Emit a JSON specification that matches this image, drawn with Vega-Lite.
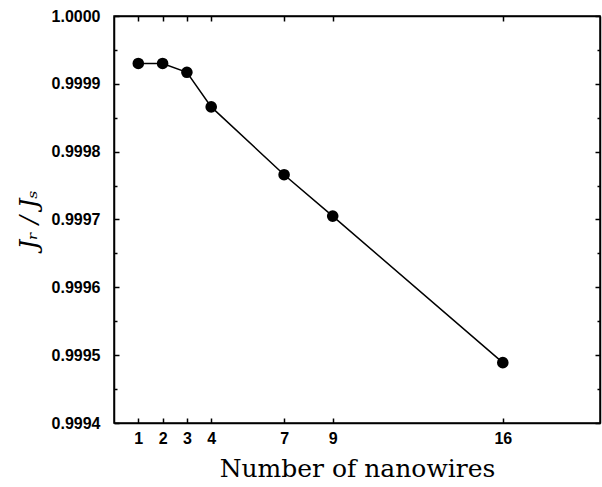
{
  "$schema": "https://vega.github.io/schema/vega-lite/v6.json",
  "width": 486,
  "height": 407,
  "autosize": "none",
  "padding": {"left": 114, "top": 16, "right": 2, "bottom": 64},
  "background": "white",
  "config": {
    "view": {"stroke": "black", "strokeWidth": 1.5},
    "axis": {
      "domainColor": "black",
      "domainWidth": 1.5,
      "tickColor": "black",
      "grid": false,
      "labelFont": "Liberation Sans",
      "labelFontWeight": "bold",
      "labelFontSize": 16,
      "labelColor": "black",
      "titleColor": "black"
    }
  },
  "data": {
    "values": [
      {"n": 1, "ratio": 0.99993},
      {"n": 2, "ratio": 0.99993},
      {"n": 3, "ratio": 0.999917},
      {"n": 4, "ratio": 0.999866},
      {"n": 7, "ratio": 0.999766},
      {"n": 9, "ratio": 0.999705},
      {"n": 16, "ratio": 0.999489}
    ]
  },
  "layer": [
    {
      "mark": {"type": "line", "color": "black", "strokeWidth": 1.5, "point": {"filled": true, "color": "black", "size": 135, "opacity": 1}},
      "encoding": {
        "x": {
          "field": "n", "type": "quantitative",
          "scale": {"domain": [0, 20], "nice": false, "zero": false},
          "axis": {
            "orient": "bottom",
            "values": [1, 2, 3, 4, 7, 9, 16],
            "title": "Number of nanowires",
            "titleFont": "DejaVu Serif",
            "titleFontWeight": "normal",
            "titleFontSize": 25,
            "titlePadding": 10,
            "tickSize": -5,
            "tickWidth": 1.5,
            "labelPadding": 12
          }
        },
        "y": {
          "field": "ratio", "type": "quantitative",
          "scale": {"domain": [0.9994, 1.0], "nice": false, "zero": false},
          "axis": {
            "orient": "left",
            "values": [0.9994, 0.99945, 0.9995, 0.99955, 0.9996, 0.99965, 0.9997, 0.99975, 0.9998, 0.99985, 0.9999, 0.99995, 1.0],
            "format": ".4f",
            "labelExpr": "abs(datum.value*10000 - round(datum.value*10000)) < 0.01 ? datum.label : ''",
            "tickSize": {"condition": {"test": "abs(datum.value*10000 - round(datum.value*10000)) < 0.01", "value": -5}, "value": -3},
            "tickWidth": 1.5,
            "labelPadding": 19,
            "title": "Jᵣ / Jₛ",
            "titleFont": "DejaVu Serif",
            "titleFontStyle": "italic",
            "titleFontWeight": "normal",
            "titleFontSize": 24,
            "titlePadding": 10
          }
        }
      }
    },
    {
      "mark": {"type": "point", "opacity": 0},
      "encoding": {
        "x": {
          "field": "n", "type": "quantitative",
          "axis": {"orient": "top", "values": [1, 2, 3, 4, 7, 9, 16], "labels": false, "title": null, "tickSize": -5, "tickWidth": 1.5}
        },
        "y": {
          "field": "ratio", "type": "quantitative",
          "axis": {
            "orient": "right",
            "values": [0.9994, 0.99945, 0.9995, 0.99955, 0.9996, 0.99965, 0.9997, 0.99975, 0.9998, 0.99985, 0.9999, 0.99995, 1.0],
            "labels": false, "title": null,
            "tickSize": {"condition": {"test": "abs(datum.value*10000 - round(datum.value*10000)) < 0.01", "value": -5}, "value": -3},
            "tickWidth": 1.5
          }
        }
      }
    }
  ],
  "resolve": {"axis": {"x": "independent", "y": "independent"}}
}
